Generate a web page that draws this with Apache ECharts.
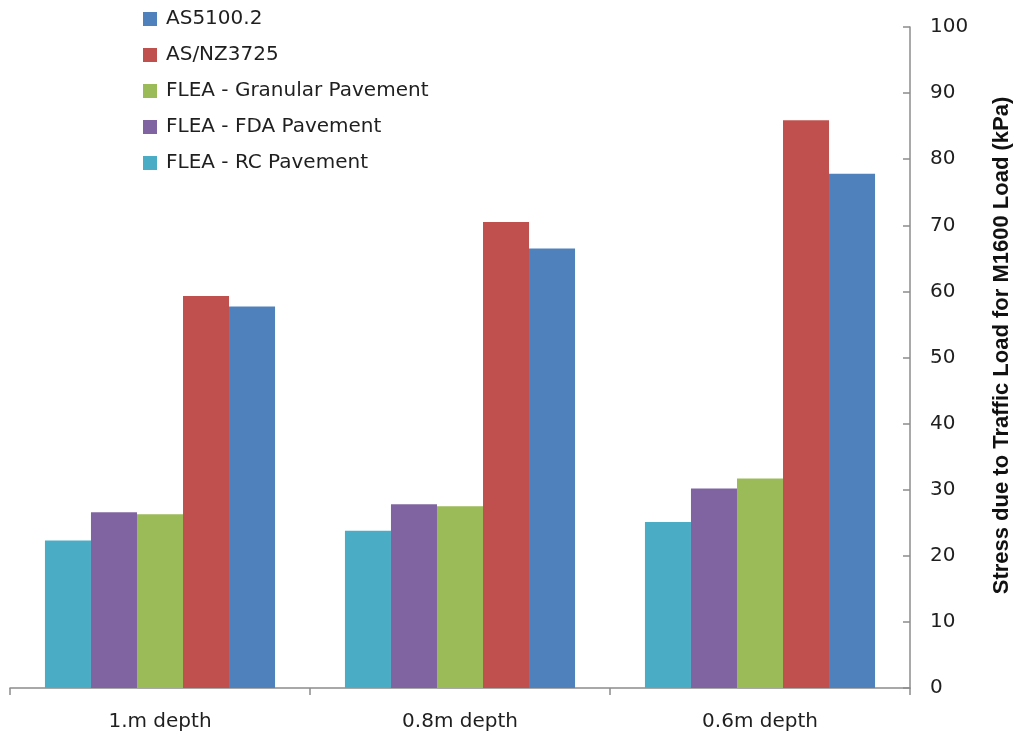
<!DOCTYPE html>
<html>
<head>
<meta charset="utf-8">
<script src="https://cdn.jsdelivr.net/npm/echarts@6/dist/echarts.min.js"></script>
<style>
  html, body { margin: 0; padding: 0; background: #fff; }
  #chart { width: 1014px; height: 738px; }
</style>
</head>
<body>
<div id="chart"></div>
<script>
// Depth categories along the x axis
const categories = ['1.m depth', '0.8m depth', '0.6m depth'];

// Stress (kPa) per method at each depth
const as5100 = [57.7, 66.5, 77.8];
const asnz3725 = [59.3, 70.5, 85.9];
const fleaGranular = [26.3, 27.5, 31.7];
const fleaFda = [26.6, 27.8, 30.2];
const fleaRc = [22.3, 23.8, 25.1];

// Series names as shown in the legend (top to bottom)
const legendNames = ['AS5100.2', 'AS/NZ3725', 'FLEA - Granular Pavement', 'FLEA - FDA Pavement', 'FLEA - RC Pavement'];

const FONT = 'DejaVu Sans';
const TEXT = '#1f1f1f';
const AXIS = '#8c8c8c';

// Bars are drawn left to right: RC, FDA, Granular, AS/NZ, AS5100
const seriesDefs = [
  { name: 'FLEA - RC Pavement', data: fleaRc, color: '#4BACC6' },
  { name: 'FLEA - FDA Pavement', data: fleaFda, color: '#8064A2' },
  { name: 'FLEA - Granular Pavement', data: fleaGranular, color: '#9BBB59' },
  { name: 'AS/NZ3725', data: asnz3725, color: '#C0504D' },
  { name: 'AS5100.2', data: as5100, color: '#4F81BD' }
];

const chart = echarts.init(document.getElementById('chart'));
chart.setOption({
  animation: false,
  backgroundColor: '#ffffff',
  grid: { left: 10, right: 104, top: 27, bottom: 50, containLabel: false, outerBoundsMode: 'none' },
  legend: {
    data: legendNames,
    orient: 'vertical',
    left: 138,
    top: 4,
    itemWidth: 14,
    itemHeight: 14,
    itemGap: 16,
    icon: 'rect',
    textStyle: { fontFamily: FONT, fontSize: 20, color: TEXT, lineHeight: 20, padding: [0, 0, 0, 4] }
  },
  xAxis: {
    type: 'category',
    data: categories,
    boundaryGap: true,
    axisLine: { show: true, lineStyle: { color: AXIS, width: 1.5 } },
    axisTick: { show: true, alignWithLabel: false, length: 7, lineStyle: { color: AXIS, width: 1.5 } },
    axisLabel: { fontFamily: FONT, fontSize: 20, color: TEXT, margin: 24 },
    splitLine: { show: false }
  },
  yAxis: {
    type: 'value',
    position: 'right',
    min: 0,
    max: 100,
    interval: 10,
    name: 'Stress due to Traffic Load for M1600 Load (kPa)',
    nameLocation: 'middle',
    nameRotate: 90,
    nameGap: 81,
    nameTextStyle: { fontFamily: 'Liberation Sans', fontWeight: 'bold', fontSize: 22, color: '#111', padding: [0, 0, 0, 24] },
    axisLine: { show: true, lineStyle: { color: AXIS, width: 1.5 } },
    axisTick: { show: true, inside: true, length: 7, lineStyle: { color: AXIS, width: 1.5 } },
    axisLabel: { fontFamily: FONT, fontSize: 20, color: TEXT, margin: 20, align: 'left' },
    splitLine: { show: false }
  },
  series: seriesDefs.map(s => ({
    name: s.name,
    type: 'bar',
    data: s.data,
    barGap: '0%',
    barCategoryGap: '23.3%',
    itemStyle: { color: s.color }
  }))
});
</script>
</body>
</html>
